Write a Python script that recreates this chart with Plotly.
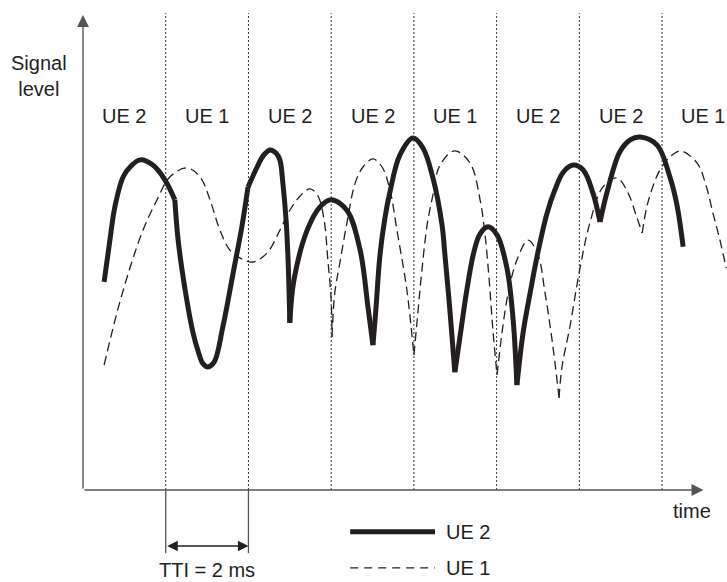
import plotly.graph_objects as go

# Scheduling: one user per transmission time interval (TTI)
tti_ms = 2
tti_users = ["UE 2", "UE 1", "UE 2", "UE 2", "UE 1", "UE 2", "UE 2", "UE 1"]
time_max = 15          # end of the time axis, ms
level_max = 100        # top of the signal-level axis (arbitrary units)

# Fading signal level of UE 2 (time in ms); None separates arcs that meet at sharp nulls/kinks
ue2_time = [
    0.51, 0.65, 0.77, 0.97, 1.16, 1.38, 1.69, 1.98, 2.22, None,
    2.22, 2.30, 2.47, 2.66, 2.78, 2.90, 3.02, 3.17, 3.38, 3.63, 3.84, 3.99, None,
    3.99, 4.21, 4.35, 4.52, 4.67, 4.76, 4.83, 4.91, 4.96, 5.00, None,
    5.00, 5.10, 5.42, 5.73, 6.00, 6.38, 6.70, 6.89, 7.01, None,
    7.01, 7.08, 7.18, 7.30, 7.42, 7.66, 7.98, 8.22, 8.46, 8.68, 8.75, 8.87, 8.99, None,
    8.99, 9.12, 9.28, 9.45, 9.60, 9.79, 10.01, 10.25, 10.40, 10.49, None,
    10.49, 10.64, 10.81, 11.00, 11.22, 11.41, 11.61, 11.85, 12.09, 12.33, 12.50, None,
    12.50, 12.67, 12.98, 13.23, 13.47, 13.88, 14.19, 14.36, 14.51,
]
ue2_level = [
    43.8, 52.6, 59.6, 65.9, 68.2, 69.5, 68.4, 65.3, 61.1, None,
    61.1, 52.6, 42.1, 33.1, 29.3, 26.6, 25.9, 26.9, 34.3, 45.7, 55.4, 63.8, None,
    63.8, 68.0, 70.3, 71.6, 70.9, 69.5, 64.8, 56.8, 48.0, 35.2, None,
    35.2, 44.2, 54.7, 59.6, 61.1, 58.9, 50.5, 38.5, 30.5, None,
    30.5, 37.9, 49.5, 57.3, 62.7, 70.5, 74.1, 72.0, 65.7, 55.8, 49.5, 37.9, 24.8, None,
    24.8, 32.6, 42.1, 50.1, 53.9, 55.4, 53.7, 46.7, 35.8, 22.1, None,
    22.1, 33.1, 41.5, 50.1, 58.3, 63.2, 66.9, 68.4, 67.4, 62.5, 56.4, None,
    56.4, 62.7, 71.2, 73.7, 74.3, 72.6, 65.9, 60.0, 51.2,
]

# Fading signal level of UE 1
ue1_time = [
    0.51, 0.82, 1.14, 1.45, 1.79, 2.10, 2.51, 2.83, 3.07, 3.31, 3.55, 3.80,
    4.11, 4.45, 4.76, 5.00, 5.25, 5.49, 5.68, 5.83, 5.92, 6.00, 6.02, None,
    6.02, 6.09, 6.21, 6.38, 6.58, 6.77, 7.01, 7.23, 7.42, 7.59, 7.83, 8.00, None,
    8.00, 8.08, 8.17, 8.32, 8.46, 8.63, 8.99, 9.36, 9.60, 9.72, 9.82, 9.91, 10.01, None,
    10.01, 10.13, 10.28, 10.49, 10.76, 11.00, 11.17, 11.34, 11.51, None,
    11.51, 11.58, 11.77, 12.02, 12.26, 12.57, 12.91, 13.18, 13.37, 13.52, None,
    13.52, 13.66, 13.95, 14.24, 14.46, 14.85, 15.06, 15.23, 15.40, 15.55,
]
ue1_level = [
    26.3, 37.3, 46.9, 54.7, 61.1, 65.9, 67.8, 65.9, 61.1, 54.7, 50.5, 48.8,
    48.0, 49.9, 54.7, 58.9, 61.9, 63.4, 61.9, 56.8, 48.4, 40.0, 32.2, None,
    32.2, 41.7, 47.8, 56.2, 64.6, 68.0, 69.7, 68.0, 63.2, 54.7, 42.1, 28.4, None,
    28.4, 35.8, 44.2, 55.8, 62.1, 68.4, 71.4, 68.8, 61.1, 53.7, 44.2, 33.7, 24.2, None,
    24.2, 33.1, 41.5, 48.4, 52.6, 49.5, 41.5, 31.6, 19.4, None,
    19.4, 25.9, 34.3, 46.9, 56.4, 63.8, 65.7, 62.5, 57.9, 54.1, None,
    54.1, 60.6, 67.4, 70.5, 71.4, 68.8, 64.2, 58.3, 52.6, 46.7,
]

INK = "#231f20"
AXIS = "#555555"
FONT = dict(family="Liberation Sans, Arial, Helvetica, sans-serif", size=20, color=INK)

fig = go.Figure()

fig.add_trace(go.Scatter(
    x=ue1_time, y=ue1_level, mode="lines", name="UE 1",
    line=dict(color=INK, width=1.3, dash="9px,5px", shape="spline"),
    connectgaps=False, hoverinfo="skip",
))
fig.add_trace(go.Scatter(
    x=ue2_time, y=ue2_level, mode="lines", name="UE 2",
    line=dict(color=INK, width=5, shape="spline"),
    connectgaps=False, hoverinfo="skip",
))

shapes = []
# TTI boundaries
n_tti = len(tti_users)
for k in range(1, n_tti):
    shapes.append(dict(type="line", xref="x", yref="y",
                       x0=k * tti_ms, x1=k * tti_ms, y0=0, y1=level_max + 0.4,
                       line=dict(color="#333333", width=1, dash="2px,2px")))
# TTI width marker below the time axis
for xm in (tti_ms, 2 * tti_ms):
    shapes.append(dict(type="line", xref="x", yref="y",
                       x0=xm, x1=xm, y0=0, y1=-13.3,
                       line=dict(color=AXIS, width=1.3)))
# Legend samples
shapes.append(dict(type="line", xref="x", yref="y", x0=6.46, x1=8.51, y0=-8.8, y1=-8.8,
                   line=dict(color=INK, width=5)))
shapes.append(dict(type="line", xref="x", yref="y", x0=6.46, x1=8.51, y0=-16.4, y1=-16.4,
                   line=dict(color=INK, width=1.2, dash="8px,6px")))

annotations = []
# Axes with arrowheads
annotations.append(dict(x=0, y=level_max, ax=0, ay=0, xref="x", yref="y", axref="x", ayref="y",
                        text="", showarrow=True, arrowhead=2, arrowsize=1.7, arrowwidth=1.4,
                        arrowcolor=AXIS, standoff=0))
annotations.append(dict(x=time_max, y=0, ax=0, ay=0, xref="x", yref="y", axref="x", ayref="y",
                        text="", showarrow=True, arrowhead=2, arrowsize=1.7, arrowwidth=1.4,
                        arrowcolor=AXIS, standoff=0))
# TTI double arrow
annotations.append(dict(x=2 * tti_ms, y=-11.8, ax=tti_ms, ay=-11.8,
                        xref="x", yref="y", axref="x", ayref="y",
                        text="", showarrow=True, arrowside="end+start",
                        arrowhead=2, startarrowhead=2, arrowsize=1.5, startarrowsize=1.5,
                        arrowwidth=1.4, arrowcolor=INK, standoff=0, startstandoff=0))
annotations.append(dict(x=1.5 * tti_ms, y=-16.9, xref="x", yref="y", text="TTI = 2 ms",
                        showarrow=False, font=FONT, xanchor="center", yanchor="middle",
                        borderpad=0))

# User scheduled in each TTI
for i, user in enumerate(tti_users):
    annotations.append(dict(x=(i + 0.5) * tti_ms, y=78.7, xref="x", yref="y", text=user,
                            showarrow=False, font=FONT, xanchor="center", yanchor="middle"))

# Axis titles
annotations.append(dict(x=-1.06, y=87.2, xref="x", yref="y", text="Signal<br>level",
                        showarrow=False, font=FONT, xanchor="center", yanchor="middle"))
annotations.append(dict(x=14.72, y=-4.4, xref="x", yref="y", text="time",
                        showarrow=False, font=FONT, xanchor="center", yanchor="middle"))

# Legend labels
annotations.append(dict(x=8.72, y=-8.8, xref="x", yref="y", text="UE 2",
                        showarrow=False, font=FONT, xanchor="left", yanchor="middle"))
annotations.append(dict(x=8.72, y=-16.4, xref="x", yref="y", text="UE 1",
                        showarrow=False, font=FONT, xanchor="left", yanchor="middle"))

fig.update_layout(
    width=727, height=582,
    margin=dict(l=0, r=0, t=0, b=0),
    paper_bgcolor="white", plot_bgcolor="white",
    showlegend=False,
    xaxis=dict(range=[-2.007, 15.57], visible=False, fixedrange=True),
    yaxis=dict(range=[-19.37, 103.16], visible=False, fixedrange=True),
    shapes=shapes, annotations=annotations,
)

fig.write_html("out.html")
